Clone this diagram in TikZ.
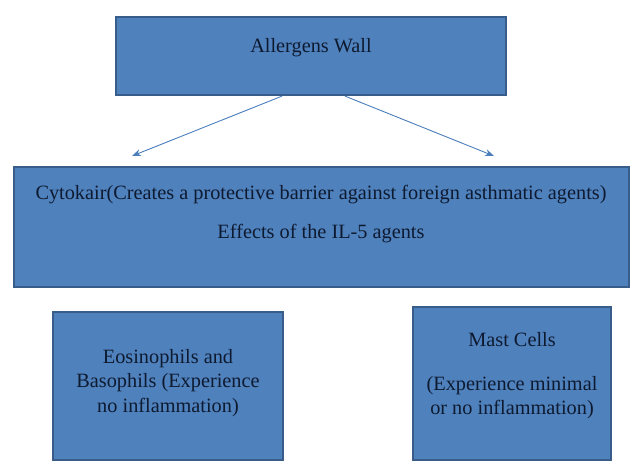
\documentclass[tikz,border=0pt]{standalone}
\usepackage{fontspec}
\setmainfont{Liberation Serif}
\newfontfamily\tnr{Liberation Serif}
\usetikzlibrary{arrows.meta}
\definecolor{boxfill}{HTML}{4F81BD}
\definecolor{boxline}{HTML}{385D8A}
\definecolor{arrcol}{HTML}{4A7EBB}
\definecolor{txtcol}{HTML}{0E1A30}
\begin{document}
\begin{tikzpicture}[x=1pt,y=-1pt,
  box/.style={draw=boxline, line width=2.2pt, fill=boxfill, inner sep=0pt},
  txt/.style={font=\tnr\fontsize{20.3}{24}\selectfont, text=txtcol, inner sep=0pt, anchor=base},
  arr/.style={draw=arrcol, line width=0.9pt, -{Stealth[length=9pt,width=7pt]}}]
\useasboundingbox (0,0) rectangle (644,474);
\node[box, minimum width=390pt, minimum height=78pt] (top) at (311,56) {};
\node[box, minimum width=615pt, minimum height=120pt] (mid) at (321.5,227) {};
\node[box, minimum width=230pt, minimum height=148pt] (bl) at (168,386) {};
\node[box, minimum width=198pt, minimum height=153pt] (br) at (512,383.5) {};
% texts
\node[txt] (t1) at (311,52) {Allergens Wall};
\node[txt] (m1) at (321,199.5) {Cytokair(Creates a protective barrier against foreign asthmatic agents)};
\node[txt] (m2) at (321,238.5) {Effects of the IL-5 agents};
\node[txt] (b1) at (168,363.5) {Eosinophils and};
\node[txt] (b2) at (168,387.5) {Basophils (Experience};
\node[txt] (b3) at (168,412) {no inflammation)};
\node[txt] (r1) at (512,346.5) {Mast Cells};
\node[txt] (r2) at (512,390.5) {(Experience minimal};
\node[txt] (r3) at (512,414.5) {or no inflammation)};
% arrows
\coordinate (e1) at (132,156);
\coordinate (e2) at (494,156);
\draw[arr] ([xshift=-29pt]top.south) -- (e1);
\draw[arr] ([xshift=34pt]top.south) -- (e2);
\end{tikzpicture}
\end{document}
